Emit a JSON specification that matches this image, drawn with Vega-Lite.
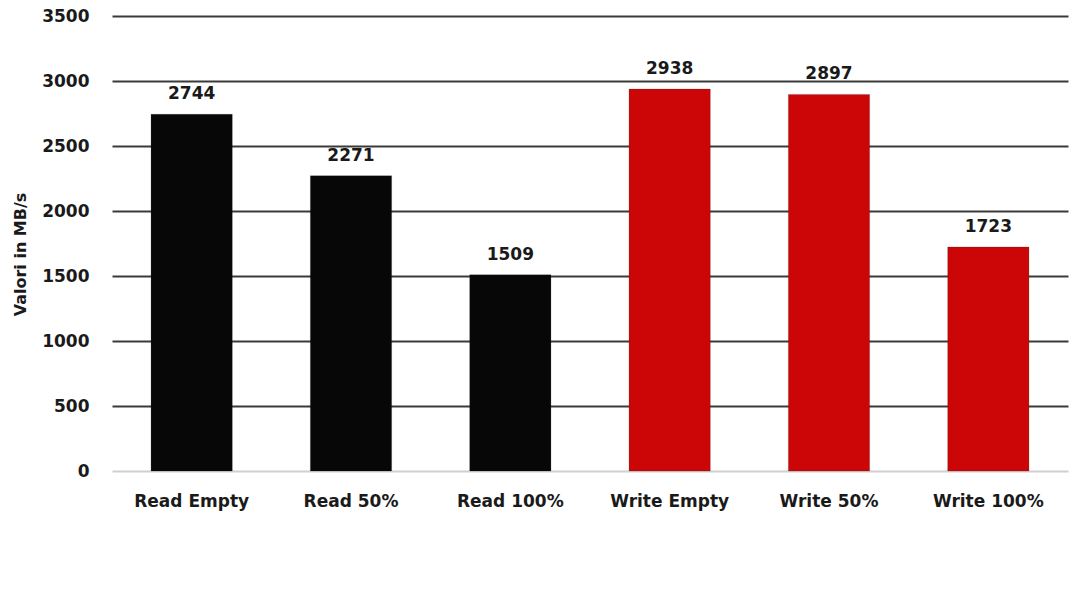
{
  "$schema": "https://vega.github.io/schema/vega-lite/v6.json",
  "width": 956,
  "height": 455,
  "autosize": "none",
  "padding": {"left": 112, "top": 16, "right": 24, "bottom": 123},
  "background": "white",
  "data": {
    "values": [
      {"cat": "Read Empty", "value": 2744, "group": "Read"},
      {"cat": "Read 50%", "value": 2271, "group": "Read"},
      {"cat": "Read 100%", "value": 1509, "group": "Read"},
      {"cat": "Write Empty", "value": 2938, "group": "Write"},
      {"cat": "Write 50%", "value": 2897, "group": "Write"},
      {"cat": "Write 100%", "value": 1723, "group": "Write"}
    ]
  },
  "encoding": {
    "x": {
      "field": "cat", "type": "nominal", "sort": null,
      "scale": {"paddingInner": 0.49, "paddingOuter": 0.245},
      "axis": {"title": null, "labelAngle": 0, "domain": false, "ticks": false,
        "labelPadding": 22, "labelFont": "DejaVu Sans", "labelFontWeight": "bold",
        "labelFontSize": 17, "labelColor": "#1a1a1a"}
    },
    "y": {
      "field": "value", "type": "quantitative",
      "scale": {"domain": [0, 3500], "nice": false},
      "axis": {"title": "Valori in MB/s", "values": [0, 500, 1000, 1500, 2000, 2500, 3000, 3500],
        "format": "d",
        "domain": false, "ticks": false, "labelPadding": 23,
        "labelFont": "DejaVu Sans", "labelFontWeight": "bold", "labelFontSize": 17, "labelColor": "#1a1a1a",
        "titleFont": "DejaVu Sans", "titleFontWeight": "bold", "titleFontSize": 16, "titleColor": "#1a1a1a",
        "titleX": -92, "titleY": 238, "titleAlign": "center", "titleBaseline": "middle", "titleAngle": -90,
        "gridColor": {"condition": {"test": "datum.value === 0", "value": "#d0d0d0"}, "value": "#3a3a3a"},
        "gridWidth": 2, "gridOpacity": 1}
    }
  },
  "layer": [
    {
      "mark": {"type": "bar", "stroke": "#222222", "strokeWidth": 0.5, "strokeOpacity": 0.4},
      "encoding": {
        "color": {"field": "group", "type": "nominal",
          "scale": {"domain": ["Read", "Write"], "range": ["#070707", "#cc0606"]}, "legend": null}
      }
    },
    {
      "mark": {"type": "text", "dy": -20, "font": "DejaVu Sans", "fontWeight": "bold", "fontSize": 17, "color": "#1a1a1a"},
      "encoding": {"text": {"field": "value", "type": "quantitative", "format": "d"}}
    }
  ],
  "config": {"view": {"stroke": null}}
}
